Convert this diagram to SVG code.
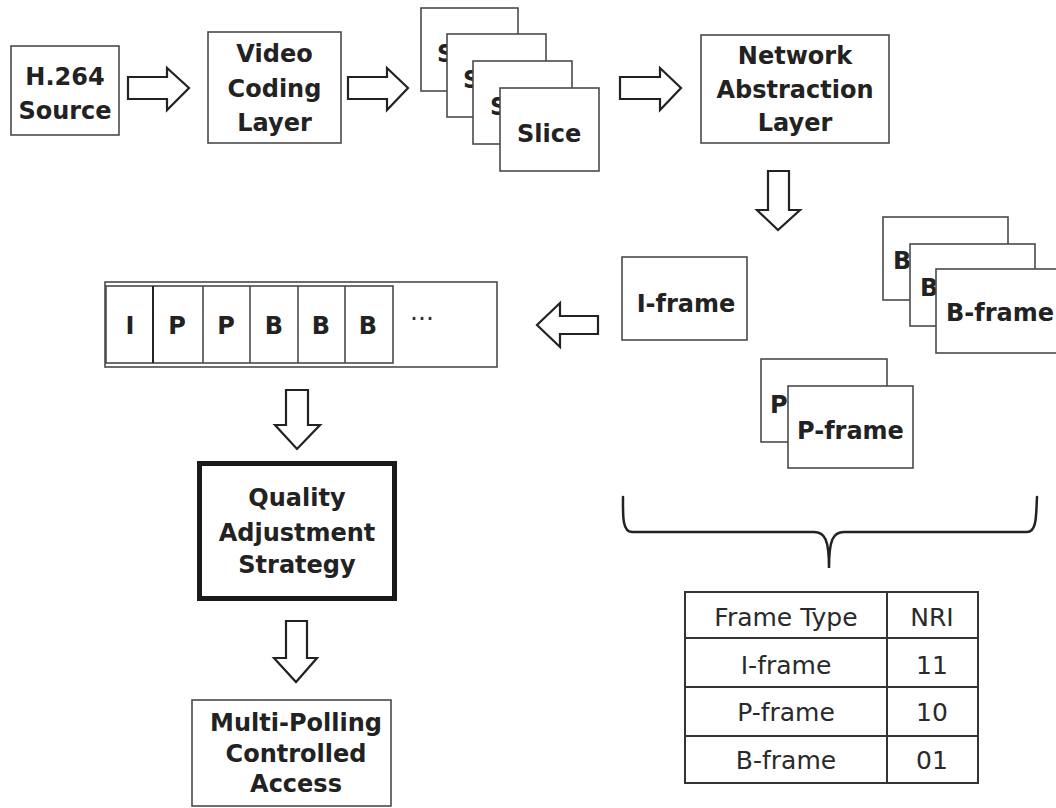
<svg xmlns="http://www.w3.org/2000/svg" width="1056" height="808" viewBox="0 0 1056 808">
  <style>
    .box { fill: #fff; stroke: #4a4a4a; stroke-width: 1.6; }
    .thick { fill: #fff; stroke: #1a1a1a; stroke-width: 5; }
    .arrow { fill: #fff; stroke: #222; stroke-width: 2.2; stroke-linejoin: miter; }
    .lbl { font-family: "DejaVu Sans", "Liberation Sans", sans-serif; font-weight: bold; font-size: 24px; fill: #222; text-anchor: middle; }
    .lbl-l { font-family: "DejaVu Sans", "Liberation Sans", sans-serif; font-weight: bold; font-size: 24px; fill: #222; }
    .tbl { font-family: "DejaVu Sans", "Liberation Sans", sans-serif; font-size: 25px; fill: #2a2a2a; text-anchor: middle; }
    .grid { fill: none; stroke: #333; stroke-width: 2; }
    .brace { fill: none; stroke: #222; stroke-width: 2.5; stroke-linecap: round; }
  </style>
  <rect width="1056" height="808" fill="#fff"/>

  <g id="h264-source">
    <rect class="box" x="11" y="46" width="108" height="89"/>
    <text class="lbl" x="65" y="85">H.264</text>
    <text class="lbl" x="65" y="119">Source</text>
  </g>

  <g id="video-coding-layer">
    <rect class="box" x="208" y="32" width="133" height="111"/>
    <text class="lbl" x="274.5" y="62">Video</text>
    <text class="lbl" x="274.5" y="97">Coding</text>
    <text class="lbl" x="274.5" y="131">Layer</text>
  </g>

  <g id="slices">
    <rect class="box" x="421" y="8" width="97" height="83"/>
    <text class="lbl-l" x="437" y="62">Slice</text>
    <rect class="box" x="447" y="34" width="99" height="83"/>
    <text class="lbl-l" x="463" y="88">Slice</text>
    <rect class="box" x="473" y="61" width="99" height="83"/>
    <text class="lbl-l" x="490" y="115">Slice</text>
    <rect class="box" x="500" y="88" width="99" height="83"/>
    <text class="lbl-l" x="517" y="142">Slice</text>
  </g>

  <g id="network-abstraction-layer">
    <rect class="box" x="701" y="35" width="188" height="108"/>
    <text class="lbl" x="795" y="64">Network</text>
    <text class="lbl" x="795" y="98">Abstraction</text>
    <text class="lbl" x="795" y="131">Layer</text>
  </g>

  <g id="i-frame">
    <rect class="box" x="622" y="257" width="125" height="83"/>
    <text class="lbl" x="686" y="312">I-frame</text>
  </g>

  <g id="b-frames">
    <rect class="box" x="883" y="217" width="125" height="83"/>
    <text class="lbl-l" x="893" y="269">B-frame</text>
    <rect class="box" x="910" y="244" width="125" height="82"/>
    <text class="lbl-l" x="920" y="296">B-frame</text>
    <rect class="box" x="936" y="269" width="125" height="84"/>
    <text class="lbl-l" x="946" y="321">B-frame</text>
  </g>

  <g id="p-frames">
    <rect class="box" x="761" y="359" width="126" height="83"/>
    <text class="lbl-l" x="770" y="413">P-frame</text>
    <rect class="box" x="788" y="386" width="125" height="82"/>
    <text class="lbl-l" x="797" y="439">P-frame</text>
  </g>

  <g id="frame-sequence">
    <rect class="box" x="105" y="282" width="392" height="85"/>
    <rect class="box" x="106" y="286" width="287" height="77"/>
    <g fill="none" stroke="#4a4a4a" stroke-width="1.6">
      <line x1="153" y1="286" x2="153" y2="363" stroke="#222" stroke-width="2"/>
      <line x1="203" y1="286" x2="203" y2="363"/>
      <line x1="250" y1="286" x2="250" y2="363"/>
      <line x1="298" y1="286" x2="298" y2="363"/>
      <line x1="345" y1="286" x2="345" y2="363"/>
    </g>
    <text class="lbl" x="130" y="334">I</text>
    <text class="lbl" x="177" y="334">P</text>
    <text class="lbl" x="226" y="334">P</text>
    <text class="lbl" x="274" y="334">B</text>
    <text class="lbl" x="321" y="334">B</text>
    <text class="lbl" x="368" y="334">B</text>
    <text class="tbl" x="422" y="327" font-size="16">···</text>
  </g>

  <g id="quality-adjustment-strategy">
    <rect class="thick" x="199.5" y="463.5" width="195" height="135"/>
    <text class="lbl" x="297" y="506">Quality</text>
    <text class="lbl" x="297" y="541">Adjustment</text>
    <text class="lbl" x="297" y="573">Strategy</text>
  </g>

  <g id="multi-polling-controlled-access">
    <rect class="box" x="192" y="700" width="199" height="106"/>
    <text class="lbl" x="296" y="731">Multi-Polling</text>
    <text class="lbl" x="296" y="762">Controlled</text>
    <text class="lbl" x="296" y="792">Access</text>
  </g>

  <g id="nri-table">
    <rect class="grid" x="685" y="592" width="293" height="191"/>
    <line class="grid" x1="887" y1="592" x2="887" y2="783"/>
    <line class="grid" x1="685" y1="638" x2="978" y2="638"/>
    <line class="grid" x1="685" y1="687" x2="978" y2="687"/>
    <line class="grid" x1="685" y1="736" x2="978" y2="736"/>
    <text class="tbl" x="786" y="626">Frame Type</text>
    <text class="tbl" x="932" y="626">NRI</text>
    <text class="tbl" x="786" y="674">I-frame</text>
    <text class="tbl" x="932" y="674">11</text>
    <text class="tbl" x="786" y="721">P-frame</text>
    <text class="tbl" x="932" y="721">10</text>
    <text class="tbl" x="786" y="769">B-frame</text>
    <text class="tbl" x="932" y="769">01</text>
  </g>

  <g id="connectors">
    <!-- hollow block arrows between stages -->
    <polygon class="arrow" points="128,77 167,77 167,68 189,88 167,110 167,99 128,99"/>
    <polygon class="arrow" points="348,77 387,77 387,68 408,88 387,110 387,99 348,99"/>
    <polygon class="arrow" points="620,77 660,77 660,68 681,88 660,110 660,99 620,99"/>
    <polygon class="arrow" points="768,171 789,171 789,210 800,210 778,230 757,210 768,210"/>
    <polygon class="arrow" points="598,316 560,316 560,303 537,325 560,347 560,334 598,334"/>
    <polygon class="arrow" points="286,390 308,390 308,425 320,425 297,449 275,425 286,425"/>
    <polygon class="arrow" points="286,621 307,621 307,658 317,658 296,682 274,658 286,658"/>
    <!-- brace gathering the frame types -->
    <path class="brace" d="M623,497 C623,515 622,532 632,532 L814,532 C825,532 829,540 829,568 C829,540 833,532 844,532 L1027,532 C1037,532 1036,515 1037,497"/>
  </g>
</svg>
